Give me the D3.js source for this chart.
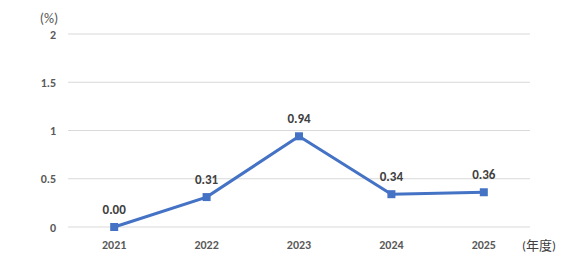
<!DOCTYPE html>
<html><head><meta charset="utf-8">
<script src="https://cdn.jsdelivr.net/npm/d3@7"></script>
<style>body{margin:0;background:#fff;} text{font-family:Calibri,Carlito,Lato,"Liberation Sans","Noto Sans CJK JP",sans-serif;}</style>
</head><body><svg id="c" width="570" height="265"></svg>
<script>
const years = ["2021","2022","2023","2024","2025"];
const values = [0.00, 0.31, 0.94, 0.34, 0.36];
const labels = ["0.00","0.31","0.94","0.34","0.36"];
const yTicks = [0, 0.5, 1, 1.5, 2];
const yTickLabels = ["0","0.5","1","1.5","2"];

const svg = d3.select("#c");
const mLeft = 68, mRight = 530, mTop = 34, mBottom = 227;
const x = d3.scaleBand().domain(years).range([mLeft, mRight]);
const y = d3.scaleLinear().domain([0, 2]).range([mBottom, mTop]);
const textCol = "#595959";

svg.append("g").selectAll("line").data(yTicks).join("line")
  .attr("x1", mLeft).attr("x2", mRight)
  .attr("y1", d => y(d)).attr("y2", d => y(d))
  .attr("stroke", "#d9d9d9").attr("stroke-width", 1);

svg.append("g").selectAll("text").data(yTicks).join("text")
  .attr("x", 56).attr("y", d => y(d) + 4.5)
  .attr("text-anchor", "end").attr("font-size", 12).attr("font-weight", "bold")
  .attr("fill", textCol).text((d, i) => yTickLabels[i]);

svg.append("text").attr("x", 49).attr("y", 23).attr("text-anchor", "middle")
  .attr("font-size", 14).attr("fill", textCol).text("(%)");

svg.append("g").selectAll("text").data(years).join("text")
  .attr("x", d => x(d) + x.bandwidth() / 2).attr("y", 249)
  .attr("text-anchor", "middle").attr("font-size", 12).attr("font-weight", "bold")
  .attr("fill", textCol).text(d => d);

svg.append("text").attr("x", 539).attr("y", 250).attr("text-anchor", "middle")
  .attr("font-size", 13).attr("fill", "#404040").text("(年度)");

const cx = d => x(d) + x.bandwidth() / 2;
const line = d3.line().x((d, i) => cx(years[i])).y(d => y(d));
svg.append("path").datum(values).attr("d", line)
  .attr("fill", "none").attr("stroke", "#4472C4").attr("stroke-width", 3).attr("stroke-linejoin", "miter");

svg.append("g").selectAll("rect").data(values).join("rect")
  .attr("x", (d, i) => cx(years[i]) - 4).attr("y", d => y(d) - 4)
  .attr("width", 8).attr("height", 8).attr("fill", "#4472C4");

svg.append("g").selectAll("text").data(values).join("text")
  .attr("x", (d, i) => cx(years[i])).attr("y", d => y(d) - 13)
  .attr("text-anchor", "middle").attr("font-size", 13).attr("font-weight", "bold")
  .attr("fill", "#404040").text((d, i) => labels[i]);
</script></body></html>
